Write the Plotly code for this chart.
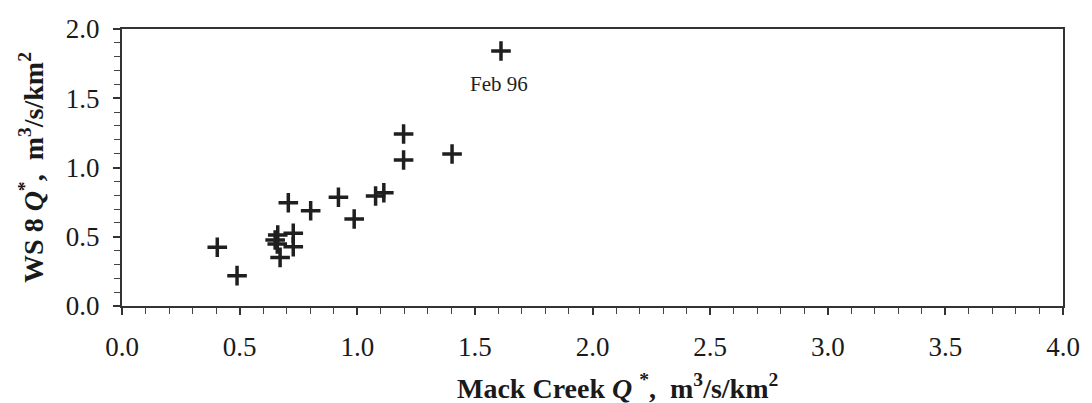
import plotly.graph_objects as go

# Data (Mack Creek Q* vs WS 8 Q*, m3/s/km2)
mack_q = [0.405, 0.489, 0.651, 0.660, 0.662, 0.672, 0.728, 0.728, 0.707, 0.802,
          0.920, 0.987, 1.078, 1.113, 1.197, 1.197, 1.403, 1.611]
ws8_q = [0.424, 0.219, 0.477, 0.448, 0.513, 0.351, 0.525, 0.428, 0.746, 0.688,
         0.785, 0.628, 0.794, 0.818, 1.242, 1.054, 1.097, 1.841]

label_text = "Feb 96"
label_x = 1.603
label_y = 1.60

x_ticks = [0.0, 0.5, 1.0, 1.5, 2.0, 2.5, 3.0, 3.5, 4.0]
y_ticks = [0.0, 0.5, 1.0, 1.5, 2.0]

FONT = "Times New Roman"
INK = "#1f1f1f"

fig = go.Figure()
fig.add_trace(go.Scatter(
    x=mack_q, y=ws8_q, mode="markers",
    marker=dict(symbol="cross-thin", size=14, color=INK,
                line=dict(width=3.5, color=INK)),
    showlegend=False, cliponaxis=False,
))

fig.add_annotation(x=label_x, y=label_y, text=label_text, showarrow=False,
                   font=dict(family="serif", size=21, color=INK))

fig.add_annotation(
    xref="paper", yref="paper", x=0.527, y=0, yshift=-80, yanchor="middle",
    text="<b>Mack Creek <i>Q</i> <sup>*</sup>,  m<sup>3</sup>/s/km<sup>2</sup></b>",
    showarrow=False, font=dict(family=FONT, size=28, color="#1a1a1a"),
)

fig.update_xaxes(
    range=[0, 4], tickvals=x_ticks, ticktext=[f"{v:.1f}" for v in x_ticks],
    showgrid=False, zeroline=False,
    showline=True, linewidth=2, linecolor="#333", mirror=True,
    ticks="outside", ticklen=7, tickwidth=1.5, tickcolor="#333",
    minor=dict(dtick=0.1, tick0=0, ticks="outside", ticklen=6, tickwidth=1.2, tickcolor="#444", showgrid=False),
    tickfont=dict(family=FONT, size=27, color="#1a1a1a"),
    ticklabelstandoff=9,
)
fig.update_yaxes(
    range=[0, 2], tickvals=y_ticks, ticktext=[f"{v:.1f}" for v in y_ticks],
    showgrid=False, zeroline=False,
    showline=True, linewidth=2, linecolor="#333", mirror=True,
    ticks="outside", ticklen=7, tickwidth=1.5, tickcolor="#333",
    minor=dict(dtick=0.1, tick0=0, ticks="outside", ticklen=6, tickwidth=1.2, tickcolor="#444", showgrid=False),
    tickfont=dict(family=FONT, size=27, color="#1a1a1a"),
    ticklabelstandoff=8,
    title=dict(text="<b>WS 8 <i>Q</i><sup>*</sup>,  m<sup>3</sup>/s/km<sup>2</sup></b>",
               font=dict(family=FONT, size=28, color="#1a1a1a"), standoff=14),
)

fig.update_layout(
    width=1092, height=403,
    margin=dict(l=122, r=19, t=29, b=97),
    paper_bgcolor="white", plot_bgcolor="white",
    font=dict(family=FONT),
)

fig.write_html("out.html")
